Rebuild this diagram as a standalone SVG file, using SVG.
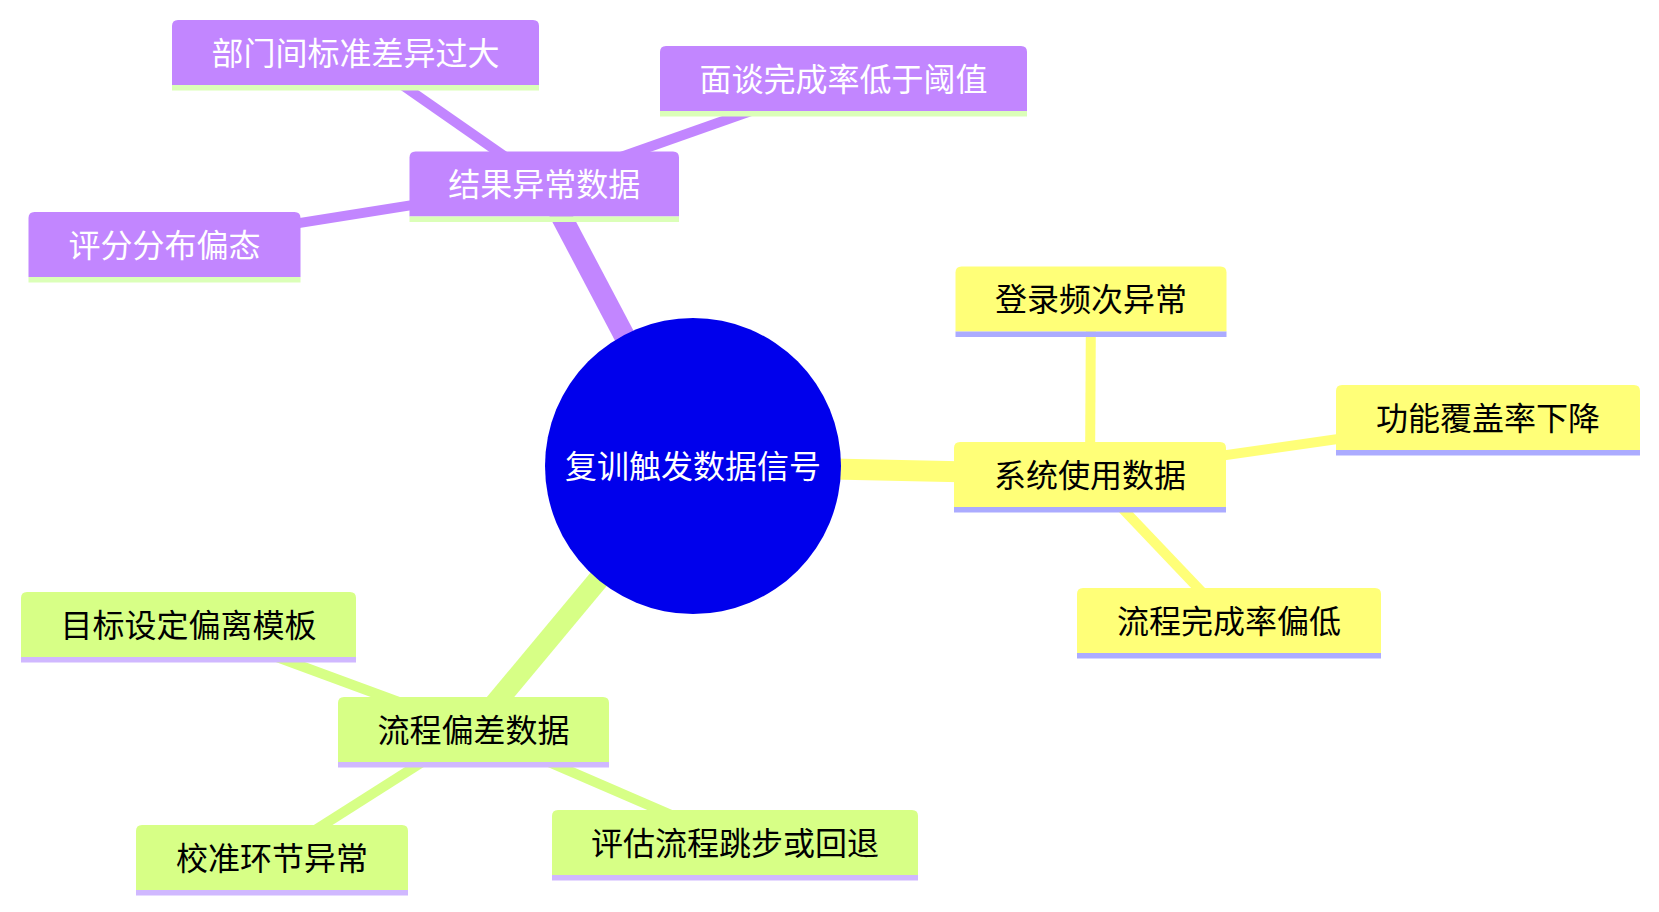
<svg xmlns="http://www.w3.org/2000/svg" width="1659" height="912" viewBox="0 0 1659 912">
<style>
  text { font-family: "Noto Sans CJK SC", "Noto Sans", sans-serif; font-size: 32px; text-anchor: middle; }
  .e0 { stroke-width: 21; stroke-linecap: butt; fill: none; }
  .e1 { stroke-width: 10; stroke-linecap: butt; fill: none; }
  .s0 { fill: #C286FF; }
  .s1 { fill: #FFFF78; }
  .s2 { fill: #D7FF86; }
  .u0 { fill: #DBFFB8; }
  .u1 { fill: #ABABFF; }
  .u2 { fill: #D0B8FF; }
  .l0 { stroke: #C286FF; }
  .l1 { stroke: #FFFF78; }
  .l2 { stroke: #D7FF86; }
  .tw { fill: #FFFFFF; }
  .tb { fill: #000000; }
</style>
<rect width="1659" height="912" fill="#FFFFFF"/>
<g id="connectors">
  <line class="e0 l0" x1="693" y1="466" x2="544.25" y2="184"/>
  <line class="e0 l1" x1="693" y1="466" x2="1090" y2="474.5"/>
  <line class="e0 l2" x1="693" y1="466" x2="473.5" y2="729.5"/>
  <line class="e1 l0" x1="544.25" y1="184" x2="355.5" y2="52.5"/>
  <line class="e1 l0" x1="544.25" y1="184" x2="843.5" y2="78.5"/>
  <line class="e1 l0" x1="544.25" y1="184" x2="164.5" y2="244.5"/>
  <line class="e1 l1" x1="1090" y1="474.5" x2="1091" y2="299"/>
  <line class="e1 l1" x1="1090" y1="474.5" x2="1488" y2="417.5"/>
  <line class="e1 l1" x1="1090" y1="474.5" x2="1229" y2="620.5"/>
  <line class="e1 l2" x1="473.5" y1="729.5" x2="188.5" y2="624.5"/>
  <line class="e1 l2" x1="473.5" y1="729.5" x2="272" y2="857.5"/>
  <line class="e1 l2" x1="473.5" y1="729.5" x2="735" y2="842.5"/>
</g>
<g id="root">
  <circle cx="693" cy="466" r="148" fill="#0000EC"/>
  <text class="tw" x="693" y="478">复训触发数据信号</text>
</g>
<g id="n-result">
  <path class="s0" d="M409.5,216.5 V157.5 Q409.5,151.5 415.5,151.5 H673 Q679,151.5 679,157.5 V216.5 Z"/>
  <rect class="u0" x="409.5" y="216.5" width="269.5" height="5.5"/>
  <text class="tw" x="544.25" y="196">结果异常数据</text>
</g>
<g id="n-dept">
  <path class="s0" d="M172,85 V26 Q172,20 178,20 H533 Q539,20 539,26 V85 Z"/>
  <rect class="u0" x="172" y="85" width="367" height="5.5"/>
  <text class="tw" x="355.5" y="64.5">部门间标准差异过大</text>
</g>
<g id="n-interview">
  <path class="s0" d="M660,111 V52 Q660,46 666,46 H1021 Q1027,46 1027,52 V111 Z"/>
  <rect class="u0" x="660" y="111" width="367" height="5.5"/>
  <text class="tw" x="843.5" y="90.5">面谈完成率低于阈值</text>
</g>
<g id="n-score">
  <path class="s0" d="M28.5,277 V218 Q28.5,212 34.5,212 H294.5 Q300.5,212 300.5,218 V277 Z"/>
  <rect class="u0" x="28.5" y="277" width="272" height="5.5"/>
  <text class="tw" x="164.5" y="256.5">评分分布偏态</text>
</g>
<g id="n-system">
  <path class="s1" d="M954,507 V448 Q954,442 960,442 H1220 Q1226,442 1226,448 V507 Z"/>
  <rect class="u1" x="954" y="507" width="272" height="5.5"/>
  <text class="tb" x="1090" y="486.5">系统使用数据</text>
</g>
<g id="n-login">
  <path class="s1" d="M955.5,331.5 V272.5 Q955.5,266.5 961.5,266.5 H1220.5 Q1226.5,266.5 1226.5,272.5 V331.5 Z"/>
  <rect class="u1" x="955.5" y="331.5" width="271" height="5.5"/>
  <text class="tb" x="1091" y="311">登录频次异常</text>
</g>
<g id="n-coverage">
  <path class="s1" d="M1336,450 V391 Q1336,385 1342,385 H1634 Q1640,385 1640,391 V450 Z"/>
  <rect class="u1" x="1336" y="450" width="304" height="5.5"/>
  <text class="tb" x="1488" y="429.5">功能覆盖率下降</text>
</g>
<g id="n-flowrate">
  <path class="s1" d="M1077,653 V594 Q1077,588 1083,588 H1375 Q1381,588 1381,594 V653 Z"/>
  <rect class="u1" x="1077" y="653" width="304" height="5.5"/>
  <text class="tb" x="1229" y="632.5">流程完成率偏低</text>
</g>
<g id="n-deviation">
  <path class="s2" d="M338,762 V703 Q338,697 344,697 H603 Q609,697 609,703 V762 Z"/>
  <rect class="u2" x="338" y="762" width="271" height="5.5"/>
  <text class="tb" x="473.5" y="741.5">流程偏差数据</text>
</g>
<g id="n-target">
  <path class="s2" d="M21,657 V598 Q21,592 27,592 H350 Q356,592 356,598 V657 Z"/>
  <rect class="u2" x="21" y="657" width="335" height="5.5"/>
  <text class="tb" x="188.5" y="636.5">目标设定偏离模板</text>
</g>
<g id="n-calib">
  <path class="s2" d="M136,890 V831 Q136,825 142,825 H402 Q408,825 408,831 V890 Z"/>
  <rect class="u2" x="136" y="890" width="272" height="5.5"/>
  <text class="tb" x="272" y="869.5">校准环节异常</text>
</g>
<g id="n-skip">
  <path class="s2" d="M552,875 V816 Q552,810 558,810 H912 Q918,810 918,816 V875 Z"/>
  <rect class="u2" x="552" y="875" width="366" height="5.5"/>
  <text class="tb" x="735" y="854.5">评估流程跳步或回退</text>
</g>
</svg>
